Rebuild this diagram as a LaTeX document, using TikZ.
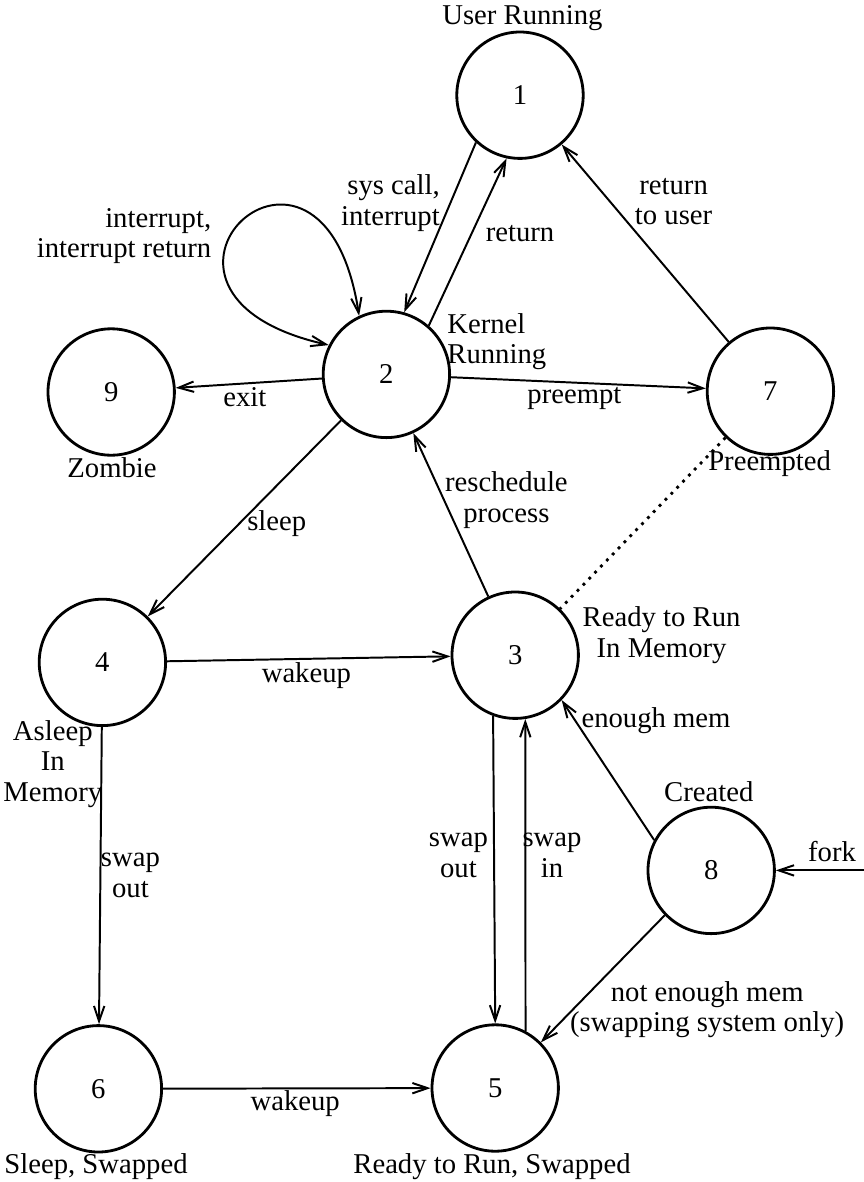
\documentclass[tikz,border=0pt]{standalone}
\usepackage{fontspec}
\setmainfont{Liberation Serif}
\usetikzlibrary{arrows.meta}
\tikzset{
    proc/.style = {draw, circle, minimum size=1.58cm, inner sep=0pt, line width=1pt},
    lbl/.style = {inner sep=0pt, align=center},
}

\begin{document}
\begin{tikzpicture}[font=\fontsize{10.2}{10.8}\selectfont, line width=0.7pt,
        >={Straight Barb[length=1.9mm,width=1.3mm]}]
        \useasboundingbox (0, 0) rectangle (10.8, -14.775);

        \node[proc] (s1) at (6.5, -1.19) {1};
        \node[proc] (s2) at (4.83, -4.68) {2};
        \node[proc] (s9) at (1.39, -4.9) {9};
        \node[proc] (s7) at (9.63, -4.89) {7};
        \node[proc] (s4) at (1.28, -8.28) {4};
        \node[proc] (s3) at (6.44, -8.19) {3};
        \node[proc] (s8) at (8.89, -10.88) {8};
        \node[proc] (s6) at (1.23, -13.61) {6};
        \node[proc] (s5) at (6.19, -13.6) {5};
        \coordinate (fork) at (10.8, -10.88);

        \node[lbl] (User) at (6.53, -0.23) {User Running};
        \node[lbl, align=right] (SysCall) at (4.88, -2.54) {sys call,\\interrupt};
        \node[lbl, align=right] (Intr) at (1.55, -2.95) {interrupt,\\interrupt return};
        \node[lbl] (Ret) at (6.5, -2.92) {return};
        \node[lbl] (RetUser) at (8.42, -2.52) {return\\to user};
        \node[lbl, align=left] (Kernel) at (6.21, -4.27) {Kernel\\Running};
        \node[lbl] (Exit) at (3.06, -4.96) {exit};
        \node[lbl] (Preempt) at (7.18, -4.98) {preempt};
        \node[lbl] (Zombie) at (1.4, -5.84) {Zombie};
        \node[lbl] (Preempted) at (9.62, -5.79) {Preempted};
        \node[lbl] (Resched) at (6.33, -6.25) {reschedule\\process};
        \node[lbl] (Sleep) at (3.46, -6.55) {sleep};
        \node[lbl] (ReadyMem) at (8.27, -7.94) {Ready to Run\\In Memory};
        \node[lbl] (WakeA) at (3.83, -8.44) {wakeup};
        \node[lbl] (Asleep) at (0.66, -9.55) {Asleep\\In\\Memory};
        \node[lbl] (Enough) at (8.2, -9.01) {enough mem};
        \node[lbl] (Created) at (8.86, -9.89) {Created};
        \node[lbl] (SwapOutA) at (1.63, -10.94) {swap\\out};
        \node[lbl] (SwapOutB) at (5.73, -10.69) {swap\\out};
        \node[lbl] (SwapIn) at (6.9, -10.69) {swap\\in};
        \node[lbl] (Fork) at (10.4, -10.65) {fork};
        \node[lbl] (NotEnough) at (8.84, -12.62) {not enough mem\\(swapping system only)};
        \node[lbl] (WakeB) at (3.69, -13.79) {wakeup};
        \node[lbl] (SleepSw) at (1.2, -14.58) {Sleep, Swapped};
        \node[lbl] (ReadySw) at (6.15, -14.58) {Ready to Run, Swapped};

        \draw[->] (s1.227) -- (s2.74);
        \draw[->] (s2.49) -- (s1.258);
        \draw[<->] (s2.115) .. controls +(-0.46, 2.98) and +(-2.93, 0.66) .. (s2.153);
        \draw[->] (s2) -- (s9);
        \draw[->] (s2) -- (s7);
        \draw[->] (s7) -- (s1);
        \draw[->] (s2) -- (s4);
        \draw[->] (s3) -- (s2);
        \draw[dotted, line width=1pt] (s7) -- (s3);
        \draw[->] (s4) -- (s3);
        \draw[->] (s4) -- (s6);
        \draw[->] (s3.250) -- (s5.north);
        \draw[->] (s5.62) -- (s3.279);
        \draw[->] (s8.152) -- (s3.316);
        \draw[->] (s8.224) -- (s5.45);
        \draw[->] (fork) -- (s8);
        \draw[->] (s6) -- (s5);
    \end{tikzpicture}
\end{document}
